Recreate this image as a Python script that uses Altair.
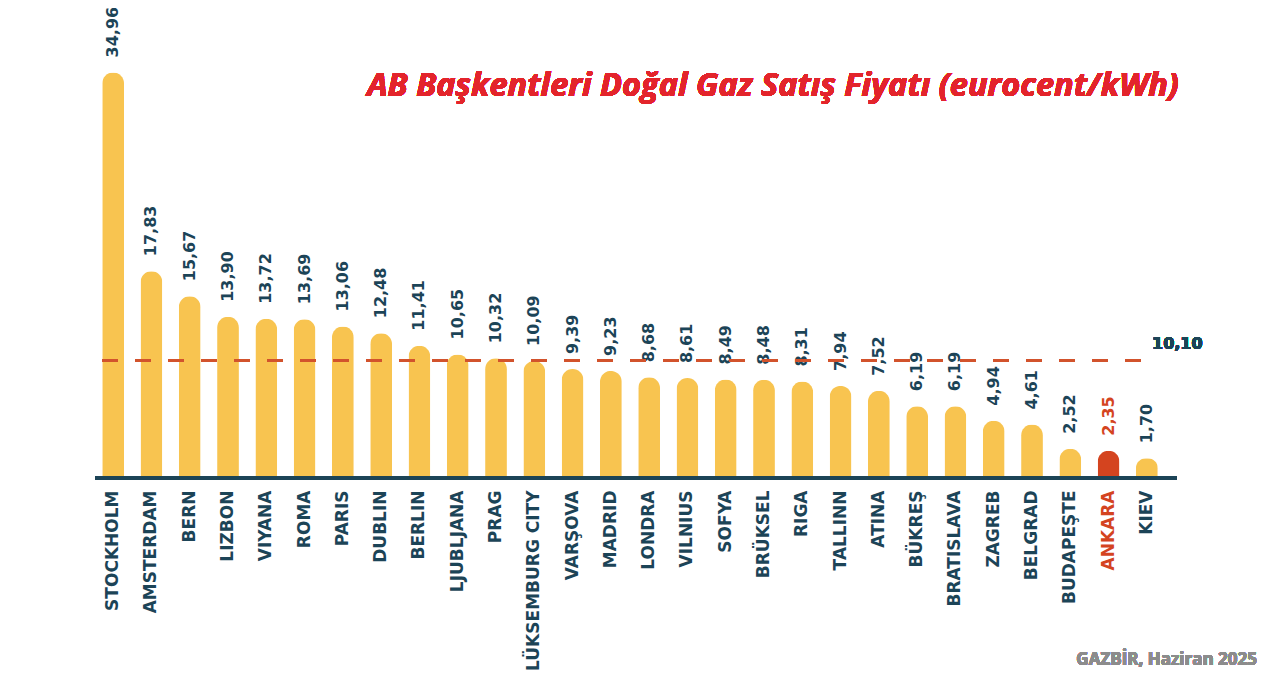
import altair as alt
import pandas as pd

cities = ["STOCKHOLM", "AMSTERDAM", "BERN", "LIZBON", "VIYANA", "ROMA", "PARIS",
          "DUBLIN", "BERLIN", "LJUBLJANA", "PRAG", "LÜKSEMBURG CITY", "VARŞOVA",
          "MADRID", "LONDRA", "VILNIUS", "SOFYA", "BRÜKSEL", "RIGA", "TALLINN",
          "ATINA", "BÜKREŞ", "BRATISLAVA", "ZAGREB", "BELGRAD", "BUDAPEŞTE",
          "ANKARA", "KIEV"]
prices = [34.96, 17.83, 15.67, 13.90, 13.72, 13.69, 13.06, 12.48, 11.41, 10.65,
          10.32, 10.09, 9.39, 9.23, 8.68, 8.61, 8.49, 8.48, 8.31, 7.94, 7.52,
          6.19, 6.19, 4.94, 4.61, 2.52, 2.35, 1.70]
average = 10.10
title_text = "AB Başkentleri Doğal Gaz Satış Fiyatı (eurocent/kWh)"
source_text = "GAZBİR, Haziran 2025"

NAVY = "#1C4457"
YELLOW = "#F8C450"
RED = "#D4441F"
FONT = "Open Sans"
LFONT = "DejaVu Sans"

df = pd.DataFrame({
    "city": cities,
    "price": prices,
    "label": [f"{v:.2f}".replace(".", ",") for v in prices],
})

W, H = 1072, 464
xscale = alt.Scale(paddingInner=0.43, paddingOuter=0.215)
yscale = alt.Scale(domain=[0, 40], nice=False, zero=True)

base = alt.Chart(df).encode(
    x=alt.X("city:N", sort=cities, scale=xscale,
            axis=alt.Axis(title=None, labelAngle=-90, labelAlign="right",
                          labelBaseline="middle", labelPadding=12, labelLimit=400,
                          labelFont=LFONT, labelFontSize=17, labelFontWeight="bold",
                          labelColor={"condition": {"test": "datum.value == 'ANKARA'", "value": RED}, "value": NAVY},
                          ticks=False, domain=False, grid=False, labelOverlap=False)),
)

bars = base.mark_bar(cornerRadiusTopLeft=11, cornerRadiusTopRight=11).encode(
    y=alt.Y("price:Q", scale=yscale, axis=None),
    color=alt.condition("datum.city == 'ANKARA'", alt.value(RED), alt.value(YELLOW)),
)

values = base.mark_text(angle=270, align="left", baseline="middle", dx=15,
                        font=LFONT, fontSize=16, fontWeight="bold").encode(
    y=alt.Y("price:Q", scale=yscale, axis=None),
    text="label:N",
    color=alt.condition("datum.city == 'ANKARA'", alt.value(RED), alt.value(NAVY)),
)

avg_line = alt.Chart(df).mark_rule(strokeDash=[16, 17], strokeWidth=2.5, color="#D2532C").encode(
    x=alt.value(8), x2=alt.value(1061), y=alt.datum(average)
)
avg_text = alt.Chart(df).mark_text(align="left", baseline="middle", dy=-17,
                                   font=LFONT, fontSize=16, fontWeight="bold", color=NAVY).encode(
    x=alt.value(1058), y=alt.datum(average), text=alt.value(f"{average:.2f}".replace(".", ","))
)

baseline = alt.Chart(df).mark_rule(strokeWidth=3, color=NAVY).encode(
    x=alt.value(1), x2=alt.value(1083), y=alt.datum(0)
)

title = alt.Chart(df).mark_text(align="center", baseline="middle", font=FONT,
                                fontSize=32.5, fontWeight="bold", fontStyle="italic",
                                color="#E3242B").encode(
    x=alt.value(679), y=alt.value(72), text=alt.value(title_text)
)

source = alt.Chart(df).mark_text(align="right", baseline="middle", font=FONT,
                                 fontSize=17, fontWeight="bold", color="#8C8C8C").encode(
    x=alt.value(1163), y=alt.value(646), text=alt.value(source_text)
)

chart = alt.layer(bars, values, avg_line, avg_text, baseline, title, source).properties(
    width=W, height=H,
    autosize=alt.AutoSizeParams(type="none"),
    padding={"left": 86, "top": 6, "right": 100, "bottom": 198},
).configure(background="white", view=alt.ViewConfig(stroke=None))

chart.save("out.html", embed_options={"renderer": "svg", "actions": False})
